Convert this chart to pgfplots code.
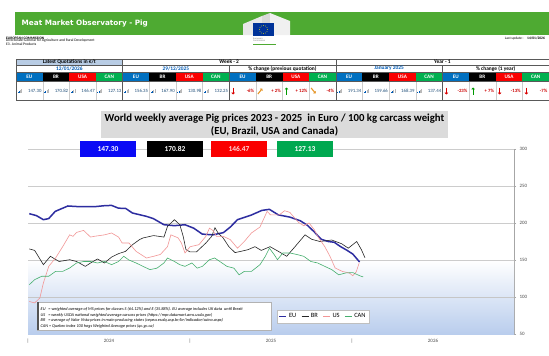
\documentclass[border=0pt]{standalone}
\usepackage{pgfplots}
\pgfplotsset{compat=1.18}
\usepackage{fontspec}
\setmainfont{Carlito}
\newfontfamily\djv{DejaVu Sans}
\usetikzlibrary{arrows.meta}
\definecolor{hdrgreen}{RGB}{78,170,50}
\definecolor{euBlue}{RGB}{0,112,192}
\definecolor{canGreen}{RGB}{0,176,80}
\definecolor{valblue}{RGB}{31,78,121}
\definecolor{datblue}{RGB}{0,90,180}
\definecolor{lqbg}{RGB}{184,204,228}
\definecolor{euLine}{RGB}{45,45,160}
\definecolor{usLine}{RGB}{242,150,150}
\definecolor{canLine}{RGB}{70,175,110}
\definecolor{gradBlue}{RGB}{185,205,237}
\definecolor{boxBlue}{RGB}{10,10,245}
\definecolor{boxGreen}{RGB}{0,168,80}
\definecolor{boxRed}{RGB}{250,0,0}
\definecolor{flagBlue}{RGB}{0,51,153}
\definecolor{arrOrange}{RGB}{230,150,40}
\newcommand\fs[1]{\fontsize{#1}{#1}\selectfont}
\begin{document}
\begin{tikzpicture}[x=1bp,y=-1bp]
\useasboundingbox (0,0) rectangle (549,355);
\fill[white] (0,0) rectangle (549,355);
% ---------- header ----------
\fill[hdrgreen] (15,12) rectangle (549,35);
\node[anchor=west, text=white, font=\djv\bfseries\fs{7.3}, inner sep=0] at (21.5,23.5) {Meat Market Observatory - Pig};
\fill[white!82!gray] (243,24) -- (262,16) -- (262,35) -- (243,35) -- cycle;
\fill[white!70!gray] (262,16) -- (270,13) -- (270,35) -- (262,35) -- cycle;
\fill[white!88!gray] (270,13) -- (290,21) -- (290,35) -- (270,35) -- cycle;
\fill[flagBlue] (253,23) rectangle (274,36);
\foreach \a in {0,30,...,330} \fill[yellow] ([shift={(\a:4)}]263.5,29.5) circle (0.45);
\node[anchor=north west, font=\fs{2.4}, text=gray, align=left, inner sep=0] at (253,37.5) {European\\Commission};
\draw[hdrgreen, line width=0.7] (253,44) -- (276,44);
\node[anchor=west, font=\bfseries\fs{3.6}, inner sep=0] at (6,38) {EUROPEAN COMMISSION};
\node[anchor=west, font=\fs{3.7}, inner sep=0] at (6,41) {Directorate-General for Agriculture and Rural Development};
\node[anchor=west, font=\fs{3.7}, inner sep=0] at (6,44) {E3. Animal Products};
\node[anchor=east, font=\fs{3.6}, inner sep=0] at (545,39) {Last update :\quad \textbf{14/01/2026}};
% ---------- table ----------
\def\cw{26.65}
\fill[lqbg] (16,59) rectangle (122.6,65);
\foreach \i in {0,...,19}{
  \pgfmathtruncatemacro\m{mod(\i,4)}
  \pgfmathsetmacro\xa{16+\i*\cw}
  \pgfmathsetmacro\xb{16+(\i+1)*\cw}
  \ifcase\m \fill[euBlue] (\xa,72) rectangle (\xb,81);
  \or \fill[black] (\xa,72) rectangle (\xb,81);
  \or \fill[boxRed] (\xa,72) rectangle (\xb,81);
  \or \fill[canGreen] (\xa,72) rectangle (\xb,81);
  \fi
  \pgfmathsetmacro\xc{16+(\i+0.5)*\cw}
  \node[font=\bfseries\fs{5.2}, text=white, inner sep=0] at (\xc,76.5) {\ifcase\m EU\or BR\or USA\or CAN\fi};
  \draw[gray!40, line width=0.3] (\xb,81) -- (\xb,100);
}
\draw[gray!70!black, line width=0.4] (16,59) rectangle (549,100);
\foreach \yy in {65,72,81} \draw[gray!70!black, line width=0.35] (16,\yy) -- (549,\yy);
\foreach \xx in {122.6,335.8} \draw[gray!70!black, line width=0.4] (\xx,59) -- (\xx,100);
\foreach \xx in {229.2,442.4} \draw[gray!70!black, line width=0.4] (\xx,65) -- (\xx,100);
\node[font=\bfseries\fs{5.4}, inner sep=0] at (69.3,62) {Latest Quotations in €/t};
\node[font=\bfseries\fs{5.4}, inner sep=0] at (229.2,62) {Week - 2};
\node[font=\bfseries\fs{5.4}, inner sep=0] at (442.4,62) {Year - 1};
\node[font=\bfseries\fs{5.4}, text=datblue, inner sep=0] at (69.3,68.5) {12/01/2026};
\node[font=\bfseries\fs{5.4}, text=datblue, inner sep=0] at (175.9,68.5) {29/12/2025};
\node[font=\bfseries\fs{5.4}, inner sep=0] at (282.5,68.5) {\% change (previous quotation)};
\node[font=\bfseries\fs{5.4}, text=datblue, inner sep=0] at (389.1,68.5) {January 2025};
\node[font=\bfseries\fs{5.4}, inner sep=0] at (495.7,68.5) {\% change (1 year)};
% value cells with signal-bar icons
\foreach \v [count=\k from 0] in {147.30,170.82,146.47,127.13,156.35,167.90,130.98,132.25}{
  \pgfmathsetmacro\xa{16+\k*\cw}
  \pgfmathsetmacro\xb{16+(\k+1)*\cw}
  \foreach \h [count=\j from 0] in {1.2,2.2,3.2,4.2}{
    \fill[\ifnum\j<2 datblue\else gray!55\fi] (\xa+1.5+\j*1.3,93) rectangle (\xa+2.5+\j*1.3,93-\h);
  }
  \node[anchor=east, font=\fs{4.8}, text=valblue, inner sep=0] at (\xb-1,91) {\v};
}
\foreach \v [count=\k from 12] in {191.34,159.66,168.39,137.44}{
  \pgfmathsetmacro\xa{16+\k*\cw}
  \pgfmathsetmacro\xb{16+(\k+1)*\cw}
  \foreach \h [count=\j from 0] in {1.2,2.2,3.2,4.2}{
    \fill[\ifnum\j<2 datblue\else gray!55\fi] (\xa+1.5+\j*1.3,93) rectangle (\xa+2.5+\j*1.3,93-\h);
  }
  \node[anchor=east, font=\fs{4.8}, text=valblue, inner sep=0] at (\xb-1,91) {\v};
}
% percent cells
\foreach \v/\t [count=\k from 8] in {{-6\%}/d,{+ 2\%}/ur,{+ 12\%}/u,{-4\%}/dr}{
  \pgfmathsetmacro\xa{16+\k*\cw}
  \pgfmathsetmacro\xb{16+(\k+1)*\cw}
  \node[anchor=east, font=\bfseries\fs{4.8}, text=red!80!black, inner sep=0] at (\xb-1.5,91) {\v};
  \ifnum\pdfstrcmp{\t}{d}=0 \draw[red!85!black, line width=1.1, -{Triangle[length=1.8,width=3.4]}] (\xa+4,87.5) -- (\xa+4,94.5);\fi
  \ifnum\pdfstrcmp{\t}{u}=0 \draw[green!60!black, line width=1.1, -{Triangle[length=1.8,width=3.4]}] (\xa+4,94.5) -- (\xa+4,87.5);\fi
  \ifnum\pdfstrcmp{\t}{ur}=0 \draw[arrOrange, line width=1.1, -{Triangle[length=1.8,width=3.4]}] (\xa+2,94) -- (\xa+6.5,88.5);\fi
  \ifnum\pdfstrcmp{\t}{dr}=0 \draw[arrOrange, line width=1.1, -{Triangle[length=1.8,width=3.4]}] (\xa+2,88) -- (\xa+6.5,93.5);\fi
}
\foreach \v/\t [count=\k from 16] in {{-23\%}/d,{+ 7\%}/u,{-13\%}/d,{-7\%}/d}{
  \pgfmathsetmacro\xa{16+\k*\cw}
  \pgfmathsetmacro\xb{16+(\k+1)*\cw}
  \node[anchor=east, font=\bfseries\fs{4.8}, text=red!80!black, inner sep=0] at (\xb-1.5,91) {\v};
  \ifnum\pdfstrcmp{\t}{d}=0 \draw[red!85!black, line width=1.1, -{Triangle[length=1.8,width=3.4]}] (\xa+4,87.5) -- (\xa+4,94.5);\fi
  \ifnum\pdfstrcmp{\t}{u}=0 \draw[green!60!black, line width=1.1, -{Triangle[length=1.8,width=3.4]}] (\xa+4,94.5) -- (\xa+4,87.5);\fi
}
% ---------- chart title ----------
\fill[gray!28] (101,111) rectangle (448,138);
\node[font=\bfseries\fs{10.8}, inner sep=0] at (274.5,118.8) {World weekly average Pig prices 2023 - 2025\ \ in Euro / 100 kg carcass weight};
\node[font=\bfseries\fs{10.8}, inner sep=0] at (274.5,131.2) {(EU, Brazil, USA and Canada)};
% ---------- chart ----------
\begin{scope}[x=1cm,y=1cm]
\begin{axis}[
  at={(28bp,-334bp)}, anchor=south west,
  width=486bp, height=185bp, scale only axis,
  xmin=2024, xmax=2027, ymin=50, ymax=300,
  axis y line*=right, axis x line*=bottom,
  x axis line style={draw=none}, y axis line style={draw=gray!70},
  xtick={2024.5,2025.5,2026.5}, xticklabels={2024,2025,2026},
  xtick style={draw=none},
  ytick={50,100,...,300}, ymajorgrids,
  grid style={gray!40, line width=0.6bp},
  ytick style={gray!70}, tick align=outside, major tick length=2bp,
  /pgf/number format/assume math mode=true,
  yticklabel style={font=\fs{5}, text=gray!60!black},
  xticklabel style={font=\fs{5}, text=gray!60!black},
  legend style={at={(0.512,0.059)}, anchor=south west, legend columns=4,
    font=\fs{6.5}, draw=gray!50, fill=white, inner sep=1.5bp,
    /tikz/every even column/.append style={column sep=3bp}},
  legend image code/.code={\draw[#1] (0bp,0bp) -- (7bp,0bp);},
  clip=false,
]
\fill[top color=white, bottom color=gradBlue, draw=none] (axis cs:2024,50) rectangle (axis cs:2027,150);
\draw[gray!40, line width=0.6bp] (axis cs:2024,150) -- (axis cs:2027,150);
\draw[gray!45, line width=0.6bp] (axis cs:2024,100) -- (axis cs:2027,100);
\addplot[euLine, line width=1.5bp] coordinates {
(2024.008,212.6) (2024.052,210) (2024.095,204.5) (2024.128,206) (2024.168,215.7) (2024.246,223) (2024.322,222) (2024.408,222) (2024.472,223.4) (2024.516,223.8) (2024.559,220) (2024.602,219.8) (2024.645,213.5) (2024.731,209) (2024.775,205.8) (2024.839,197.7) (2024.904,196.4) (2024.969,197.7) (2025.023,193) (2025.076,185) (2025.141,184) (2025.206,187) (2025.249,194.6) (2025.293,204.5) (2025.379,210.8) (2025.443,217) (2025.490,218.5) (2025.545,211) (2025.616,208) (2025.681,203) (2025.724,197) (2025.767,188) (2025.810,178) (2025.853,175) (2025.890,174) (2025.930,168) (2025.970,163) (2026.005,158) (2026.047,147.3)};
\addplot[black!85, line width=0.6bp] coordinates {
(2024.008,165) (2024.041,163) (2024.095,143.7) (2024.138,155) (2024.192,148) (2024.257,150.4) (2024.300,148) (2024.354,141.4) (2024.386,146) (2024.429,151.4) (2024.472,146) (2024.516,154) (2024.559,158.6) (2024.602,161.7) (2024.645,170.7) (2024.688,177.5) (2024.710,179.8) (2024.775,183) (2024.839,181) (2024.861,195.4) (2024.904,204.5) (2024.937,197.7) (2024.958,182) (2024.975,164) (2025.000,161) (2025.040,161) (2025.098,173) (2025.134,182) (2025.154,193.6) (2025.175,186) (2025.204,180) (2025.240,168) (2025.278,160) (2025.320,162) (2025.358,164) (2025.401,168) (2025.440,163) (2025.494,168) (2025.543,162) (2025.597,155) (2025.648,168) (2025.710,184) (2025.751,178) (2025.802,175) (2025.875,177) (2025.936,172) (2025.977,166) (2026.029,175) (2026.058,164) (2026.080,153)};
\addplot[usLine, line width=0.6bp] coordinates {
(2024.008,94) (2024.041,92) (2024.073,98.6) (2024.095,119) (2024.128,141.4) (2024.170,152.7) (2024.214,168) (2024.257,184) (2024.278,182) (2024.300,187.3) (2024.343,190) (2024.386,181) (2024.408,182) (2024.472,184) (2024.516,186.5) (2024.559,181) (2024.581,173) (2024.623,173) (2024.667,161.7) (2024.731,152.7) (2024.775,155) (2024.817,157.5) (2024.861,168) (2024.882,184) (2024.904,182) (2024.926,180) (2024.947,173) (2024.969,159.5) (2025.001,168) (2025.055,170.7) (2025.098,182) (2025.120,193) (2025.141,190) (2025.163,182) (2025.206,182) (2025.249,177.5) (2025.293,166) (2025.335,175) (2025.379,186.5) (2025.432,194.6) (2025.476,215.7) (2025.497,211) (2025.551,211) (2025.584,216.6) (2025.616,214.4) (2025.670,200.8) (2025.702,196.4) (2025.735,200) (2025.767,191) (2025.788,182) (2025.832,168) (2025.864,155) (2025.896,139.2) (2025.940,134.6) (2025.983,132.5) (2026.005,128.8) (2026.026,134) (2026.045,146.5)};
\addplot[canLine, line width=0.6bp] coordinates {
(2024.008,116.7) (2024.041,123.4) (2024.084,128) (2024.128,128) (2024.170,134.6) (2024.214,134.6) (2024.257,139.2) (2024.300,146) (2024.343,148) (2024.386,148) (2024.429,146) (2024.472,148) (2024.516,143.7) (2024.559,148) (2024.591,155) (2024.623,150) (2024.667,146) (2024.710,141.4) (2024.753,137) (2024.796,139) (2024.839,146) (2024.861,152.7) (2024.904,148) (2024.937,143.7) (2024.969,141.4) (2025.012,146) (2025.044,139) (2025.076,141.4) (2025.120,150.4) (2025.152,152.7) (2025.184,148) (2025.228,141.4) (2025.271,139) (2025.303,130) (2025.335,134.6) (2025.379,134.6) (2025.432,143.7) (2025.465,155) (2025.490,166) (2025.519,157.5) (2025.540,150.4) (2025.573,159.5) (2025.616,159.5) (2025.659,157.5) (2025.702,155) (2025.746,148) (2025.788,146) (2025.832,141.4) (2025.875,137) (2025.918,130) (2025.961,132.5) (2026.005,133) (2026.047,128.8) (2026.069,127.1)};
\legend{EU,BR,US,CAN}
\end{axis}
\end{scope}
% year separators
\foreach \xx in {28,190,352} \node[font=\fs{5}, text=gray!60!black, inner sep=0] at (\xx,341) {|};
% notes box
\filldraw[fill=white, draw=gray!60, line width=0.4] (37,302) rectangle (271,330);
\fill[gray!65!black] (37,302) rectangle (38.8,330);
\node[anchor=west, font=\itshape\fs{4.3}, inner sep=0] at (40.5,309.2) {EU\ \ \ = weighted average of MS prices for classes S (64.12\%) and E (35.88\%). EU average includes UK data\ \ until Brexit};
\node[anchor=west, font=\itshape\fs{4.3}, inner sep=0] at (40.5,314.8) {US\ \ \ = weekly USDA national weighted average carcass prices (https://mpr.datamart.ams.usda.gov)};
\node[anchor=west, font=\itshape\fs{4.3}, inner sep=0] at (40.5,320.4) {BR\ \ \ = average of Valor Vista prices in main producing states (cepea.esalq.usp.br/br/indicador/suino.aspx)};
\node[anchor=west, font=\itshape\fs{4.3}, inner sep=0] at (40.5,326) {CAN = Quebec index 100 hogs Weighted Average prices (qc.gc.ca)};
% value boxes
\fill[boxBlue] (80,141) rectangle (136,157);
\fill[black] (147,141) rectangle (203,157);
\fill[boxRed] (211,141) rectangle (267,157);
\fill[boxGreen] (277,141) rectangle (333,157);
\node[font=\bfseries\fs{7.5}, text=white, inner sep=0] at (108,149) {147.30};
\node[font=\bfseries\fs{7.5}, text=white, inner sep=0] at (175,149) {170.82};
\node[font=\bfseries\fs{7.5}, text=white!85!red, inner sep=0] at (239,149) {146.47};
\node[font=\bfseries\fs{7.5}, text=white, inner sep=0] at (305,149) {127.13};
\end{tikzpicture}
\end{document}
